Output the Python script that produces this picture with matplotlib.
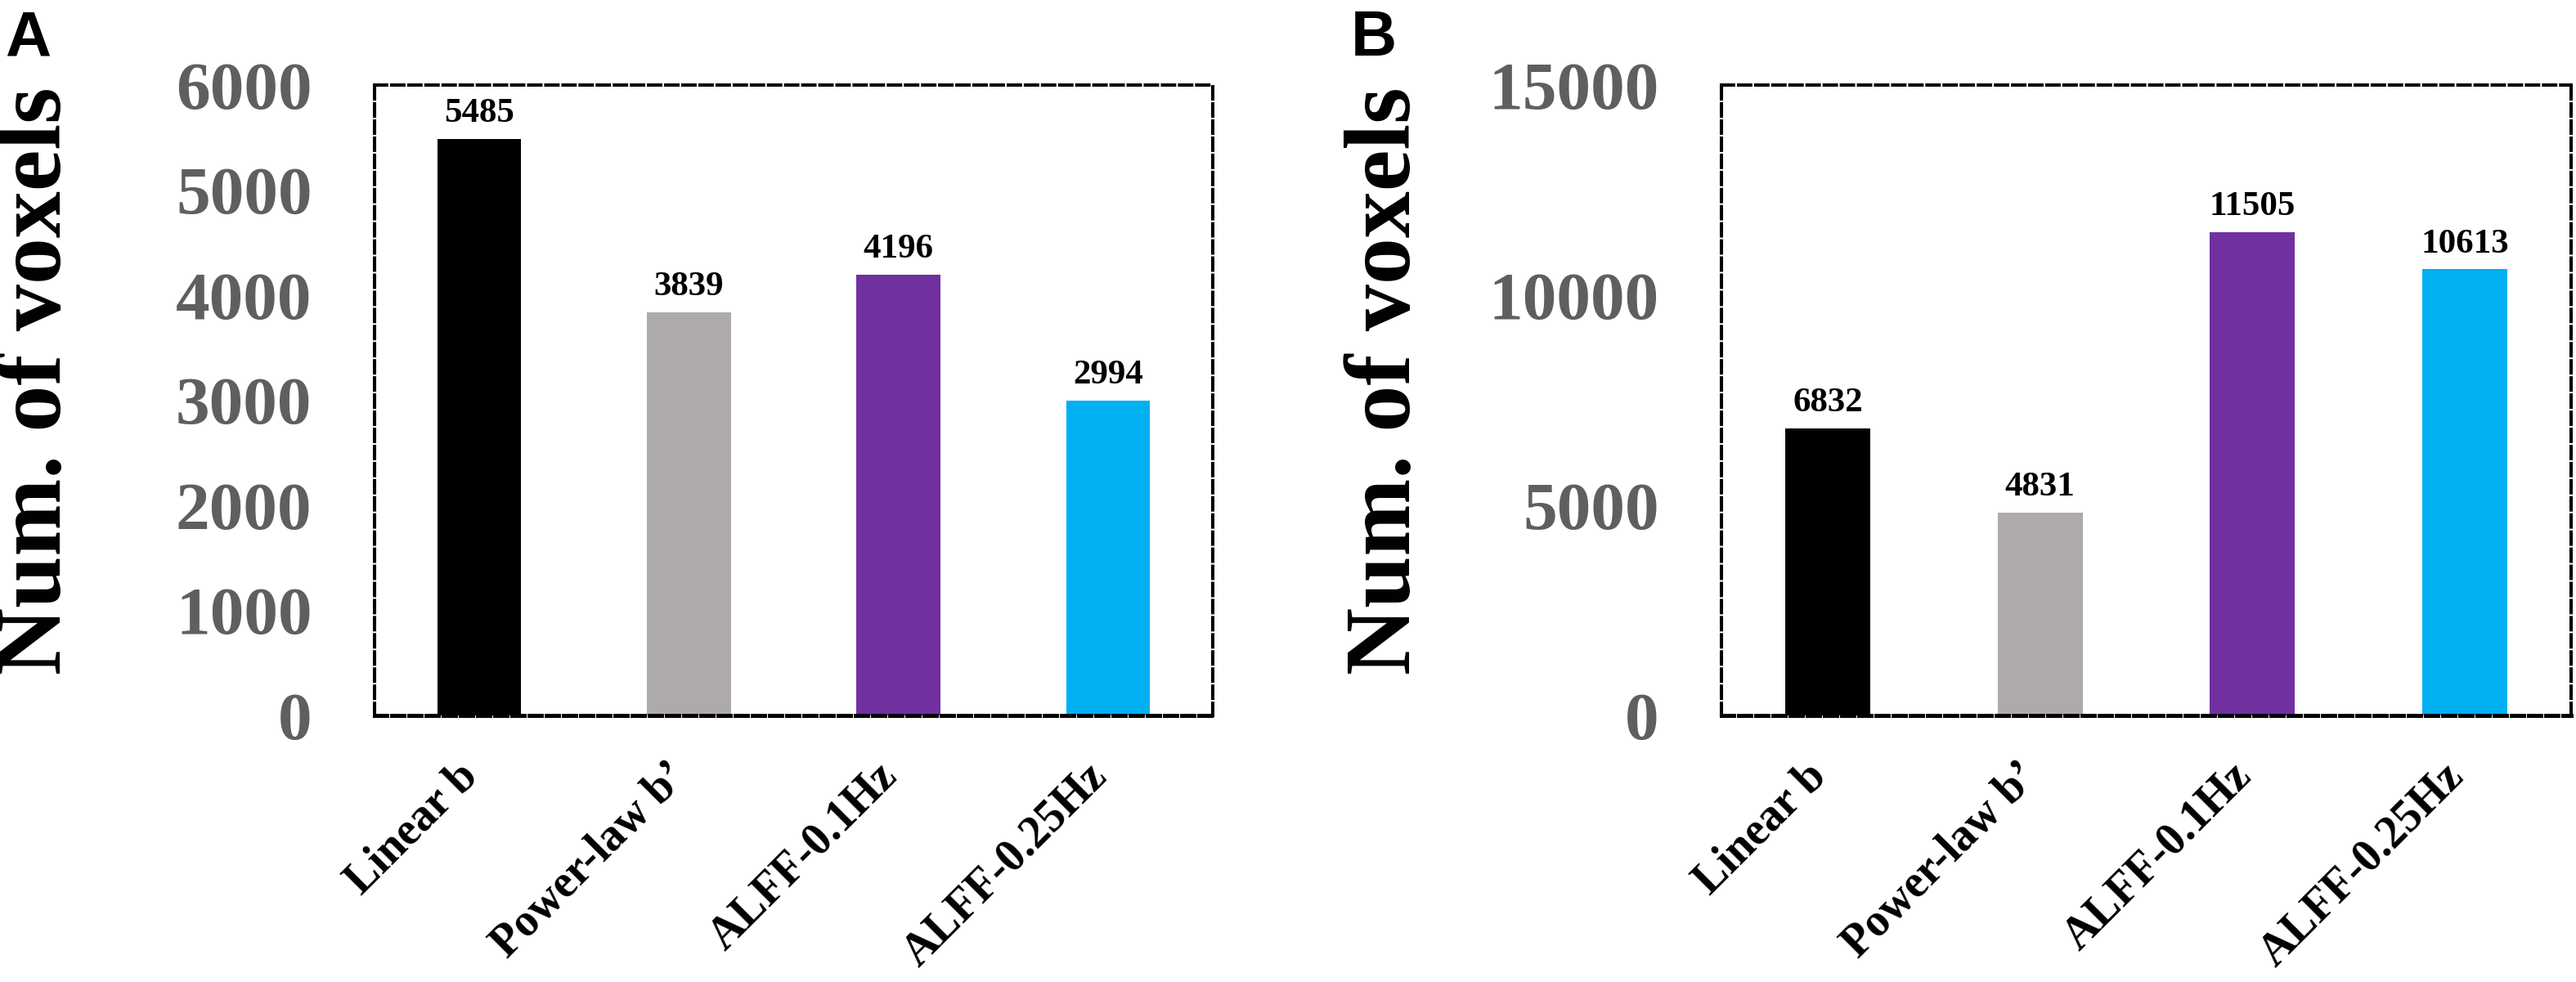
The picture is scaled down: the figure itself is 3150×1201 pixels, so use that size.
import matplotlib
matplotlib.use('Agg')
import matplotlib.pyplot as plt
import matplotlib.transforms as mtransforms

# data
categories = ['Linear b', 'Power-law b\u2019', 'ALFF-0.1Hz', 'ALFF-0.25Hz']
values_a = [5485, 3839, 4196, 2994]
values_b = [6832, 4831, 11505, 10613]
ticks_a = [0, 1000, 2000, 3000, 4000, 5000, 6000]
ticks_b = [0, 5000, 10000, 15000]
bar_colors = ['#000000', '#AEAAAA', '#7030A0', '#00B0F0']

SERIF = 'Liberation Serif'
TICK_GRAY = '#5f5f5f'

fig = plt.figure(figsize=(31.5, 12.01), dpi=100)
W, H = 3150, 1201


def panel(rect, values, yticks, letter, letter_x, ylabel_x):
    ax = fig.add_axes(rect)
    x = range(len(categories))
    ax.bar(x, values, width=0.4, color=bar_colors, zorder=2)
    ax.set_xlim(-0.5, len(categories) - 0.5)
    ax.set_ylim(yticks[0], yticks[-1])
    ax.set_yticks(yticks)
    ax.set_yticklabels([str(t) for t in yticks], fontsize=60, fontweight='bold',
                       family=SERIF, color=TICK_GRAY)
    ax.set_xticks(list(x))
    labels = ax.set_xticklabels(categories, fontsize=40, fontweight='bold',
                                family=SERIF, rotation=45,
                                ha='right', va='baseline', rotation_mode='anchor')
    # nudge the rotated labels a little to the right, like the original
    shift = mtransforms.ScaledTranslation(16 / 100, 0, fig.dpi_scale_trans)
    for lab in labels:
        lab.set_transform(lab.get_transform() + shift)
    ax.tick_params(axis='y', length=0, pad=55)
    ax.tick_params(axis='x', length=0, pad=55)

    # dashed box (bottom edge a bit heavier, as in the original)
    for name, sp in ax.spines.items():
        if name == 'bottom':
            sp.set_linestyle((0, (3, 1.2)))
            sp.set_linewidth(3.6)
        else:
            sp.set_linestyle((0, (3.7, 1.5)))
            sp.set_linewidth(2.9)
        sp.set_color('black')
        sp.set_zorder(3)

    # value labels
    for i, v in enumerate(values):
        ax.annotate(str(v), (i, v), xytext=(0, 15), textcoords='offset points',
                    ha='center', va='baseline', fontsize=31, fontweight='bold',
                    family=SERIF, color='black')

    ax.set_ylabel('Num. of voxels', fontsize=82, fontweight='bold', family=SERIF,
                  color='black', va='center')
    x0 = rect[0] * W
    ax.yaxis.set_label_coords((ylabel_x - x0) / (rect[2] * W), (875 - 466) / 771)

    fig.text(letter_x / W, 1 - 11 / H, letter, fontsize=56, fontweight='bold',
             family='Liberation Sans', ha='left', va='top')
    return ax


bottom = 1 - 875 / H
height = 771 / H
panel([458 / W, bottom, 1025 / W, height], values_a, ticks_a, 'A', 6, 46)
panel([2105 / W, bottom, 1039 / W, height], values_b, ticks_b, 'B', 1652, 1696)

fig.savefig('out.png', dpi=100, facecolor='white')
